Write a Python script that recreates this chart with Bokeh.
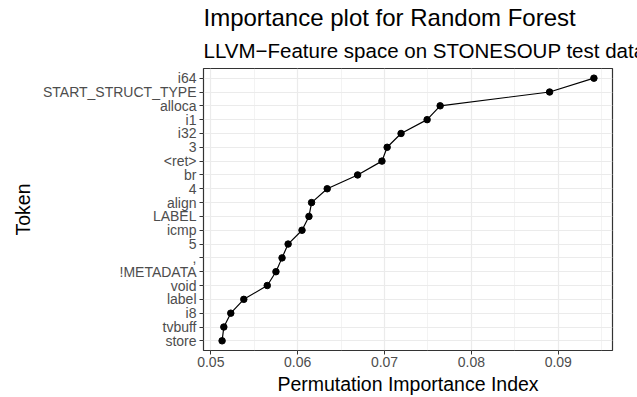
from bokeh.plotting import figure
from bokeh.models import FactorRange, Range1d, FixedTicker, Title
from bokeh.embed import file_html
from bokeh.resources import INLINE

tokens = ["i64", "START_STRUCT_TYPE", "alloca", "i1", "i32", "3", "<ret>", "br", "4",
          "align", "LABEL", "icmp", "5", ",", "!METADATA", "void", "label", "i8",
          "tvbuff", "store"]
importance = [0.0941, 0.0890, 0.0764, 0.0749, 0.0719, 0.0703, 0.0697, 0.0669, 0.0634,
              0.0616, 0.0613, 0.0605, 0.0589, 0.0582, 0.0575, 0.0565, 0.0538, 0.0523,
              0.0515, 0.0513]
x_ticks = [0.05, 0.06, 0.07, 0.08, 0.09]
x_minor = [0.055, 0.065, 0.075, 0.085, 0.095]

FONT = "Liberation Sans"

lo, hi = min(importance), max(importance)
span = hi - lo

W, H = 637, 397
BL, BR, BT, BB = 203, 25, 68, 45

p = figure(width=W, height=H, output_backend="svg", toolbar_location=None,
           y_range=FactorRange(factors=list(reversed(tokens)), range_padding=0.2,
                               range_padding_units="absolute"),
           x_range=Range1d(lo - 0.05 * span, hi + 0.05 * span),
           min_border_left=BL, min_border_right=BR, min_border_top=BT,
           min_border_bottom=BB)

p.add_layout(Title(text="LLVM\u2212Feature space on STONESOUP test data", text_font=FONT,
                   text_font_size="20.5px", text_font_style="normal", text_color="black",
                   align="left", standoff=13), "above")
p.add_layout(Title(text="Importance plot for Random Forest", text_font=FONT,
                   text_font_size="24px", text_font_style="normal", text_color="black",
                   align="left", standoff=0), "above")

p.line(importance, tokens, line_color="black", line_width=1.2)
p.scatter(importance, tokens, size=6.5, fill_color="black", line_color="black")

p.xaxis.ticker = FixedTicker(ticks=x_ticks, minor_ticks=x_minor)
p.xaxis.axis_label = "Permutation Importance Index"
p.yaxis.axis_label = "Token"

for ax in (p.xaxis[0], p.yaxis[0]):
    ax.axis_line_color = None
    ax.major_tick_line_color = "#333333"
    ax.major_tick_out = 4
    ax.major_tick_in = 0
    ax.minor_tick_line_color = None
    ax.major_label_text_font = FONT
    ax.major_label_text_font_size = "14px"
    ax.major_label_text_color = "#4D4D4D"
    ax.major_label_standoff = 3
    ax.axis_label_text_font = FONT
    ax.axis_label_text_font_size = "19.5px"
    ax.axis_label_text_font_style = "normal"
    ax.axis_label_text_color = "black"

p.xaxis.major_label_standoff = 2
p.xaxis.axis_label_standoff = 3
p.yaxis.axis_label_standoff = 6

p.xgrid.grid_line_color = "#EBEBEB"
p.xgrid.grid_line_width = 1.2
p.xgrid.minor_grid_line_color = "#EBEBEB"
p.xgrid.minor_grid_line_width = 0.6
p.ygrid.grid_line_color = "#EBEBEB"
p.ygrid.grid_line_width = 1.2

p.outline_line_color = "#333333"
p.outline_line_width = 1.2
p.background_fill_color = "white"
p.border_fill_color = "white"

open("out.html", "w").write(file_html(p, INLINE))
